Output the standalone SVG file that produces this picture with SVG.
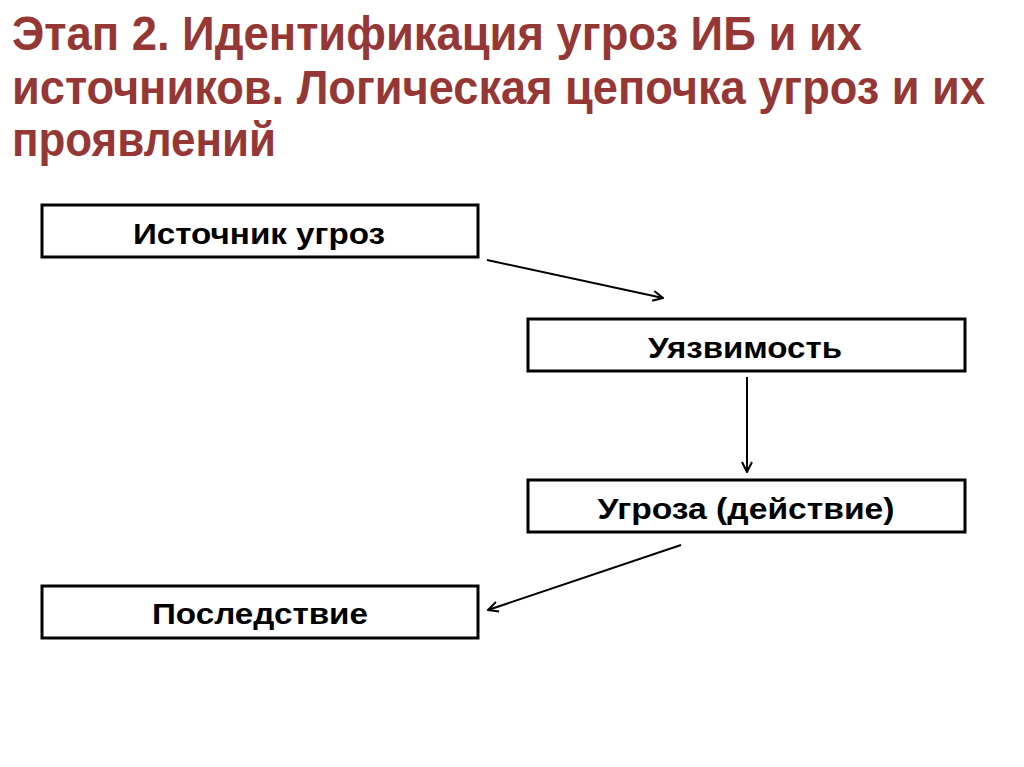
<svg xmlns="http://www.w3.org/2000/svg" width="1024" height="767" viewBox="0 0 1024 767">
<style>
.title{font-family:"Liberation Sans Narrow","Liberation Sans",Arial,sans-serif;font-weight:bold;font-size:48px;fill:#953735}
.box{fill:#fff;stroke:#000;stroke-width:3}
.lbl{font-family:"Liberation Sans",Arial,sans-serif;font-weight:bold;font-size:30px;fill:#000;text-anchor:middle}
.conn{stroke:#000;stroke-width:2;fill:none;marker-end:url(#arr)}
</style>
<defs>
<marker id="arr" viewBox="0 0 12 12" refX="11" refY="6" markerWidth="12" markerHeight="12" markerUnits="userSpaceOnUse" orient="auto">
<path d="M1,1 L11,6 L1,11" fill="none" stroke="#000" stroke-width="2"/>
</marker>
</defs>
<rect width="1024" height="767" fill="#fff"/>
<g id="title">
<text class="title" x="12" y="50" textLength="850" lengthAdjust="spacingAndGlyphs">Этап 2. Идентификация угроз ИБ и их</text>
<text class="title" x="12" y="104" textLength="973" lengthAdjust="spacingAndGlyphs">источников. Логическая цепочка угроз и их</text>
<text class="title" x="12" y="156" textLength="264" lengthAdjust="spacingAndGlyphs">проявлений</text>
</g>
<g id="node-source">
<rect class="box" x="42" y="205" width="436" height="52"/>
<text class="lbl" x="259" y="244" textLength="252" lengthAdjust="spacingAndGlyphs">Источник угроз</text>
</g>
<g id="node-vuln">
<rect class="box" x="528" y="319" width="437" height="52"/>
<text class="lbl" x="745" y="358" textLength="194" lengthAdjust="spacingAndGlyphs">Уязвимость</text>
</g>
<g id="node-threat">
<rect class="box" x="528" y="480" width="437" height="52"/>
<text class="lbl" x="746" y="519" textLength="297" lengthAdjust="spacingAndGlyphs">Угроза (действие)</text>
</g>
<g id="node-consequence">
<rect class="box" x="42" y="586" width="436" height="52"/>
<text class="lbl" x="260" y="624" textLength="216" lengthAdjust="spacingAndGlyphs">Последствие</text>
</g>
<g id="connectors">
<line class="conn" x1="487" y1="260" x2="663" y2="298"/>
<line class="conn" x1="747" y1="377" x2="747" y2="472"/>
<line class="conn" x1="681" y1="545" x2="488" y2="610"/>
</g>
</svg>
